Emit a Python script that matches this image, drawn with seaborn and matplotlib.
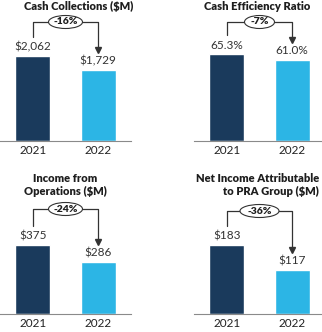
import matplotlib
matplotlib.use("Agg")
import matplotlib.pyplot as plt
import seaborn as sns
import pandas as pd
from matplotlib.patches import Ellipse
from matplotlib.lines import Line2D

years = ["2021", "2022"]
titles = ["Cash Collections ($M)", "Cash Efficiency Ratio",
          "Income from\nOperations ($M)", "Net Income Attributable\nto PRA Group ($M)"]
cash_collections = [2062, 1729]
cash_efficiency = [65.3, 61.0]
income_ops = [375, 286]
net_income = [183, 117]
value_labels = [["$2,062", "$1,729"], ["65.3%", "61.0%"], ["$375", "$286"], ["$183", "$117"]]
changes = ["-16%", "-7%", "-24%", "-36%"]
series = [cash_collections, cash_efficiency, income_ops, net_income]

DARK = "#1a3a5c"
LIGHT = "#2cb5e5"
LINE = "#333333"

W, H = 322, 332
sns.set_theme(style="white")
plt.rcParams["font.family"] = ["Lato", "DejaVu Sans"]
fig = plt.figure(figsize=(W / 100, H / 100), dpi=100)


def fx(x):
    return x / W


def fy(y):
    return 1 - y / H


AX_H = 100
layout = [
    dict(left=0, base=141, width=131, ymax=2420, title_xy=(79, 6), ha="center", by=22, ew=34),
    dict(left=194, base=141, width=131, ymax=75.1, title_xy=(257, 6), ha="center", by=22, ew=30),
    dict(left=0, base=314, width=131, ymax=545, title_xy=(65, 185), ha="center", by=209, ew=34),
    dict(left=194, base=314, width=131, ymax=265, title_xy=(319, 185), ha="right", by=211, ew=39),
]

for k, L in enumerate(layout):
    ax = fig.add_axes([fx(L["left"]), fy(L["base"]), fx(L["width"]), AX_H / H])
    df = pd.DataFrame({"year": years, "value": series[k]})
    sns.barplot(data=df, x="year", y="value", hue="year", palette=[DARK, LIGHT],
                legend=False, width=0.53, ax=ax, saturation=1)
    ax.set_xlim(-0.5, 1.5)
    ax.set_ylim(0, L["ymax"])
    ax.set_facecolor("none")
    for s in ["left", "top", "right"]:
        ax.spines[s].set_visible(False)
    ax.spines["bottom"].set_color("#8a8a8a")
    ax.spines["bottom"].set_linewidth(0.8)
    ax.set_yticks([])
    ax.set_xlabel("")
    ax.set_ylabel("")
    ax.tick_params(axis="x", length=0, pad=3, labelsize=8.5, labelcolor="#222222")
    for c, lab in zip(ax.containers, value_labels[k]):
        ax.bar_label(c, labels=[lab], padding=2.5, fontsize=8.5, color="#333333")

    # title
    tx, ty = L["title_xy"]
    fig.text(fx(tx), fy(ty), titles[k], ha=L["ha"], va="center", fontsize=8,
             fontweight="heavy", color="#1e1e1e", linespacing=1.3, multialignment=L["ha"])

    # bracket from bar tops
    pts = []
    for i, v in enumerate(series[k]):
        dx, dy = ax.transData.transform((i, v))
        pts.append((dx, H - dy))
    (x1, t1), (x2, t2) = pts
    by = L["by"]
    xs = [x1, x1, x2, x2]
    ys = [t1 - 19, by, by, t2 - 22]
    fig.add_artist(Line2D([fx(x) for x in xs], [fy(y) for y in ys],
                          transform=fig.transFigure, color=LINE, lw=0.9))
    fig.add_artist(Line2D([fx(x2)], [fy(t2 - 20)], transform=fig.transFigure,
                          marker="v", markersize=4, color=LINE, lw=0))
    cx = (x1 + x2) / 2
    fig.add_artist(Ellipse((fx(cx), fy(by)), L["ew"] / W, 13 / H, transform=fig.transFigure,
                           facecolor="white", edgecolor=LINE, lw=0.8, zorder=5))
    fig.text(fx(cx), fy(by), changes[k], ha="center", va="center", fontsize=7.5,
             fontweight="heavy", color="#1e1e1e", zorder=6)

fig.savefig("out.png", dpi=100)
